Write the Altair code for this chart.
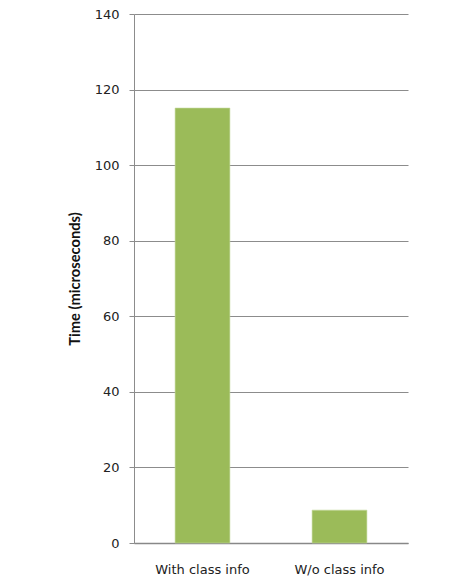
import altair as alt
import pandas as pd

categories = ["With class info", "W/o class info"]
values = [115.1, 8.7]
y_ticks = [0, 20, 40, 60, 80, 100, 120, 140]

df = pd.DataFrame({"category": categories, "time": values})

chart = alt.Chart(df).mark_bar(
    color="#9BBB59", stroke="#c3d69b", strokeWidth=0.6
).encode(
    x=alt.X(
        "category:N",
        sort=categories,
        scale=alt.Scale(paddingInner=0.6, paddingOuter=0.3),
        axis=alt.Axis(
            title=None, labelAngle=0, ticks=False, domain=True, grid=False,
            domainColor="#888888", domainWidth=1.5,
            labelFont="DejaVu Sans", labelFontSize=13, labelColor="#222222",
            labelPadding=20,
        ),
    ),
    y=alt.Y(
        "time:Q",
        scale=alt.Scale(domain=[0, 140], nice=False),
        axis=alt.Axis(
            title="Time (microseconds)", titleFont="Lato", titleFontWeight="bold",
            titleFontSize=14.7, titleColor="#111111", titlePadding=12,
            values=y_ticks, grid=True, gridColor="#8c8c8c", gridWidth=1,
            domain=True, domainColor="#8c8c8c", ticks=True, tickSize=5,
            tickColor="#8c8c8c", labelFont="DejaVu Sans", labelFontSize=13,
            labelColor="#222222", labelPadding=10,
        ),
    ),
).properties(
    width=274,
    height=529,
    background="white",
    autosize=alt.AutoSizeParams(type="none"),
    padding={"left": 126, "top": 6, "right": 58, "bottom": 34},
).configure_view(stroke="transparent", strokeWidth=0)

chart.save("out.html", embed_options={"renderer": "svg", "actions": False})
